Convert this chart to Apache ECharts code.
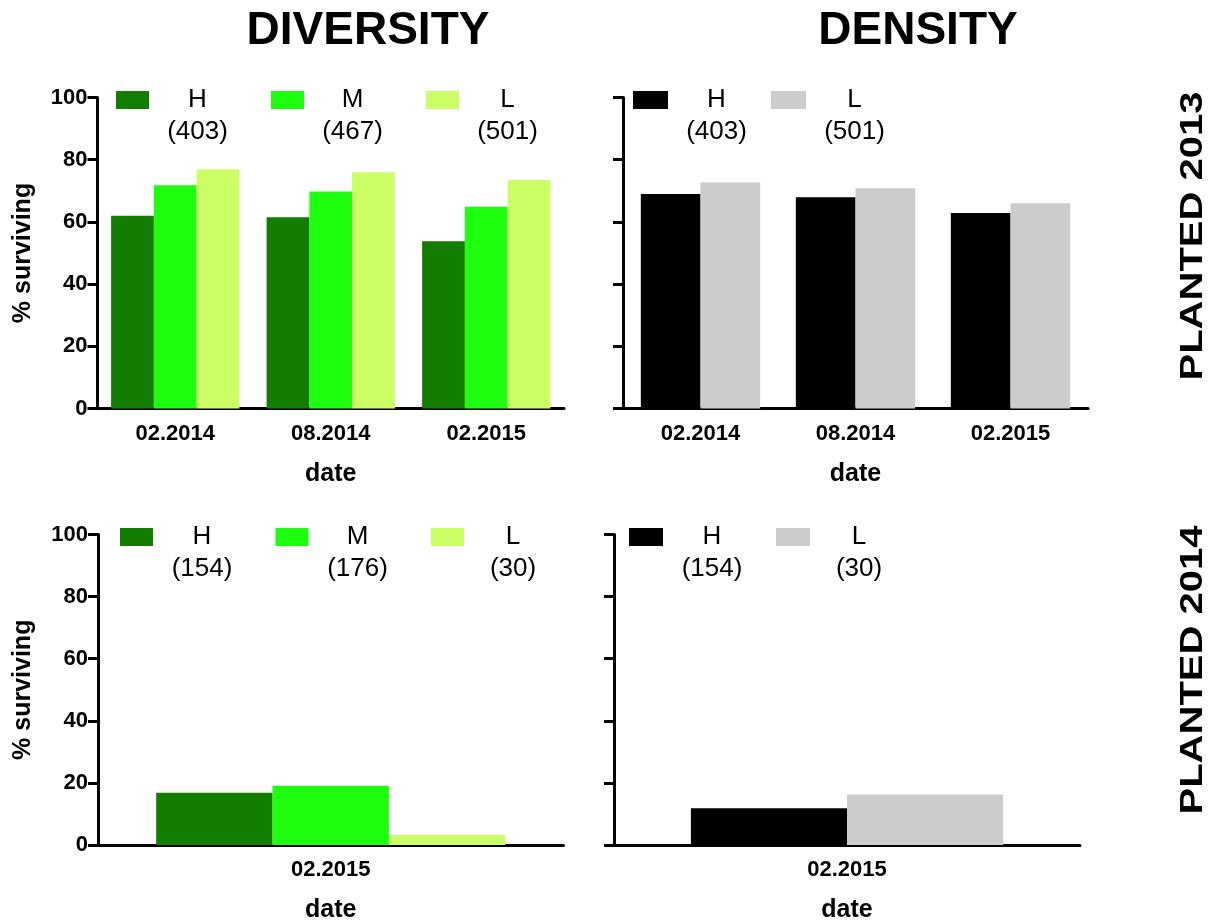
<!DOCTYPE html>
<html>
<head>
<meta charset="utf-8">
<style>
  html, body { margin: 0; padding: 0; background: #ffffff; }
  #chart { width: 1220px; height: 924px; }
</style>
<script src="https://cdn.jsdelivr.net/npm/echarts@6/dist/echarts.min.js"></script>
</head>
<body>
<div id="chart"></div>
<script>
// Survival of plantings by diversity and density treatment, sampled at each census date
const dates2013 = ['02.2014', '08.2014', '02.2015'];
const dates2014 = ['02.2015'];
const yTicks = [0, 20, 40, 60, 80, 100];

// Planted 2013, diversity treatment (% surviving)
const div2013H = [62.0, 61.5, 53.8];
const div2013M = [71.8, 69.8, 64.9];
const div2013L = [76.9, 76.0, 73.5];
const div2013N = [403, 467, 501];

// Planted 2013, density treatment
const den2013H = [69.0, 67.9, 62.9];
const den2013L = [72.7, 70.8, 66.0];
const den2013N = [403, 501];

// Planted 2014, diversity treatment
const div2014H = [16.8];
const div2014M = [19.1];
const div2014L = [3.2];
const div2014N = [154, 176, 30];

// Planted 2014, density treatment
const den2014H = [11.8];
const den2014L = [16.3];
const den2014N = [154, 30];

const levelNames3 = ['H', 'M', 'L'];
const levelNames2 = ['H', 'L'];

const GREEN_H = '#127d00';
const GREEN_M = '#1eff0f';
const GREEN_L = '#ccff66';
const BLACK = '#000000';
const GREY = '#cccccc';
const FONT = '"Liberation Sans", Arial, sans-serif';

// Panel layout: grid box plus legend geometry
const panels = [
  { key: 'd13', cats: dates2013, grid: { left: 97.5, top: 97.5, width: 466.5, height: 311 },
    levels: levelNames3, values: [div2013H, div2013M, div2013L], counts: div2013N,
    colors: [GREEN_H, GREEN_M, GREEN_L], showY: true, gap: '17.5%',
    legend: { left: 116, top: 55, iw: 33, tw: 87, gap: 30 } },
  { key: 'n13', cats: dates2013, grid: { left: 623, top: 97.5, width: 465, height: 311 },
    levels: levelNames2, values: [den2013H, den2013L], counts: den2013N,
    colors: [BLACK, GREY], showY: false, gap: '23%',
    legend: { left: 633, top: 55, iw: 35, tw: 87, gap: 11 } },
  { key: 'd14', cats: dates2014, grid: { left: 98, top: 534.5, width: 465.5, height: 311.5 },
    levels: levelNames3, values: [div2014H, div2014M, div2014L], counts: div2014N,
    colors: [GREEN_H, GREEN_M, GREEN_L], showY: true, gap: '25%',
    legend: { left: 120, top: 492, iw: 33, tw: 88, gap: 29.5 } },
  { key: 'n14', cats: dates2014, grid: { left: 614, top: 534.5, width: 466, height: 311.5 },
    levels: levelNames2, values: [den2014H, den2014L], counts: den2014N,
    colors: [BLACK, GREY], showY: false, gap: '33%',
    legend: { left: 629, top: 492, iw: 34, tw: 88, gap: 20 } }
];

const legendLabels = {};
const grids = [], xAxes = [], yAxes = [], series = [], legends = [];

panels.forEach((p, gi) => {
  grids.push(Object.assign({ containLabel: false }, p.grid));

  xAxes.push({
    type: 'category', gridIndex: gi, data: p.cats,
    name: 'date', nameLocation: 'middle', nameGap: 53,
    nameTextStyle: { fontFamily: FONT, fontWeight: 'bold', fontSize: 25, color: '#000' },
    axisLine: { lineStyle: { color: '#000', width: 3 } },
    axisTick: { alignWithLabel: true, length: 10, lineStyle: { color: '#000', width: 3 } },
    axisLabel: { interval: 0, margin: 14, fontFamily: FONT, fontWeight: 'bold', fontSize: 22, color: '#000' },
    splitLine: { show: false }
  });

  yAxes.push({
    type: 'value', gridIndex: gi, min: yTicks[0], max: yTicks[yTicks.length - 1],
    interval: yTicks[1] - yTicks[0],
    name: p.showY ? '% surviving' : '', nameLocation: 'middle', nameGap: 62, nameRotate: 90,
    nameTextStyle: { fontFamily: FONT, fontWeight: 'bold', fontSize: 25, color: '#000' },
    axisLine: { show: true, lineStyle: { color: '#000', width: 3 } },
    axisTick: { show: true, length: 10, lineStyle: { color: '#000', width: 3 } },
    axisLabel: { show: p.showY, margin: 10, fontFamily: FONT, fontWeight: 'bold', fontSize: 22, color: '#000' },
    splitLine: { show: false }
  });

  const names = [];
  p.levels.forEach((lv, si) => {
    const name = p.key + ':' + lv;
    names.push(name);
    legendLabels[name] = { level: lv, n: p.counts[si] };
    series.push({
      type: 'bar', name: name, xAxisIndex: gi, yAxisIndex: gi,
      data: p.values[si],
      barGap: '0%', barCategoryGap: p.gap,
      itemStyle: { color: p.colors[si] },
      emphasis: { disabled: true },
      animation: false
    });
  });

  const richLine = { width: p.legend.tw, align: 'center', lineHeight: 32, fontSize: 26, fontFamily: FONT, color: '#000' };
  legends.push({
    data: names, left: p.legend.left, top: p.legend.top, padding: 0,
    orient: 'horizontal', itemGap: p.legend.gap,
    itemWidth: p.legend.iw, itemHeight: 18, icon: 'rect',
    selectedMode: false,
    formatter: (name) => {
      const d = legendLabels[name];
      return '{e|\u00a0}\n{h|' + d.level + '}\n{n|(' + d.n + ')}';
    },
    textStyle: {
      fontFamily: FONT, fontSize: 26, color: '#000',
      rich: { e: richLine, h: richLine, n: richLine }
    }
  });
});

const chart = echarts.init(document.getElementById('chart'), null, { renderer: 'canvas' });
chart.setOption({
  backgroundColor: '#ffffff',
  animation: false,
  grid: grids,
  xAxis: xAxes,
  yAxis: yAxes,
  legend: legends,
  series: series,
  graphic: [
    { type: 'text', x: 368, y: 31,
      style: { text: 'DIVERSITY', font: 'bold 46px ' + FONT, fill: '#000', align: 'center', verticalAlign: 'middle' } },
    { type: 'text', x: 918, y: 31,
      style: { text: 'DENSITY', font: 'bold 46px ' + FONT, fill: '#000', align: 'center', verticalAlign: 'middle' } },
    { type: 'text', x: 1193, y: 236, rotation: Math.PI / 2, scaleY: 0.78,
      style: { text: 'PLANTED 2013', font: 'bold 40px ' + FONT, fill: '#000', align: 'center', verticalAlign: 'middle' } },
    { type: 'text', x: 1193, y: 670, rotation: Math.PI / 2, scaleY: 0.78,
      style: { text: 'PLANTED 2014', font: 'bold 40px ' + FONT, fill: '#000', align: 'center', verticalAlign: 'middle' } }
  ]
});
</script>
</body>
</html>
